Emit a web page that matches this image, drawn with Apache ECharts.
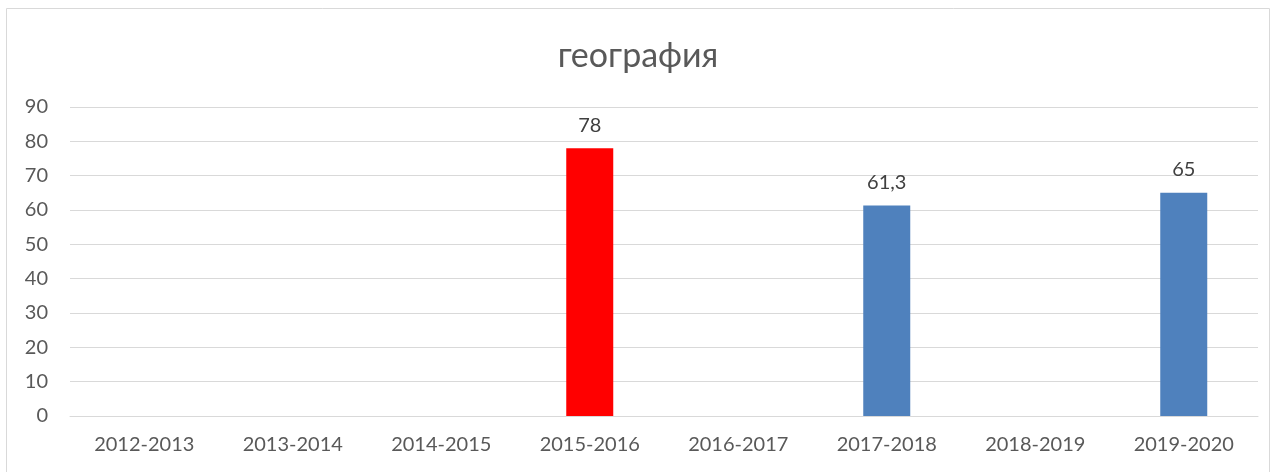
<!DOCTYPE html>
<html lang="ru">
<head>
<meta charset="UTF-8">
<title>география</title>
<script src="https://cdn.jsdelivr.net/npm/echarts@6/dist/echarts.min.js"></script>
<style>
  html, body { margin: 0; padding: 0; background: #fff; }
  #main { width: 1276px; height: 472px; }
</style>
</head>
<body>
<div id="main"></div>
<script>
const years = ['2012-2013', '2013-2014', '2014-2015', '2015-2016', '2016-2017', '2017-2018', '2018-2019', '2019-2020'];
const scores = [null, null, null, 78, null, 61.3, null, 65];
const barColors = ['#4F81BD', '#4F81BD', '#4F81BD', '#FF0000', '#4F81BD', '#4F81BD', '#4F81BD', '#4F81BD'];

const font = 'Lato, "Open Sans", sans-serif';
const chart = echarts.init(document.getElementById('main'));

chart.setOption({
  animation: false,
  graphic: [{
    type: 'rect',
    shape: { x: 6.5, y: 8.5, width: 1263, height: 470 },
    style: { fill: 'none', stroke: '#d9d9d9', lineWidth: 1 },
    silent: true
  }],
  title: {
    text: 'география',
    left: 'center',
    top: 34,
    textStyle: { fontFamily: font, fontSize: 34, fontWeight: 'normal', color: '#595959' }
  },
  grid: { left: 70, right: 18, top: 107, bottom: 56 },
  xAxis: {
    type: 'category',
    data: years,
    axisLine: { lineStyle: { color: '#d9d9d9' } },
    axisTick: { show: false },
    axisLabel: { fontFamily: font, fontSize: 20, color: '#595959', margin: 19 }
  },
  yAxis: {
    type: 'value',
    min: 0,
    max: 90,
    interval: 10,
    splitLine: { lineStyle: { color: '#d9d9d9' } },
    axisLabel: { fontFamily: font, fontSize: 20, color: '#595959', margin: 22 }
  },
  series: [{
    type: 'bar',
    barWidth: 47,
    data: scores.map((v, i) => ({ value: v, itemStyle: { color: barColors[i] } })),
    label: {
      show: true,
      position: 'top',
      distance: 13,
      fontFamily: font,
      fontSize: 20,
      color: '#404040',
      formatter: p => String(p.value).replace('.', ',')
    }
  }]
});
</script>
</body>
</html>
